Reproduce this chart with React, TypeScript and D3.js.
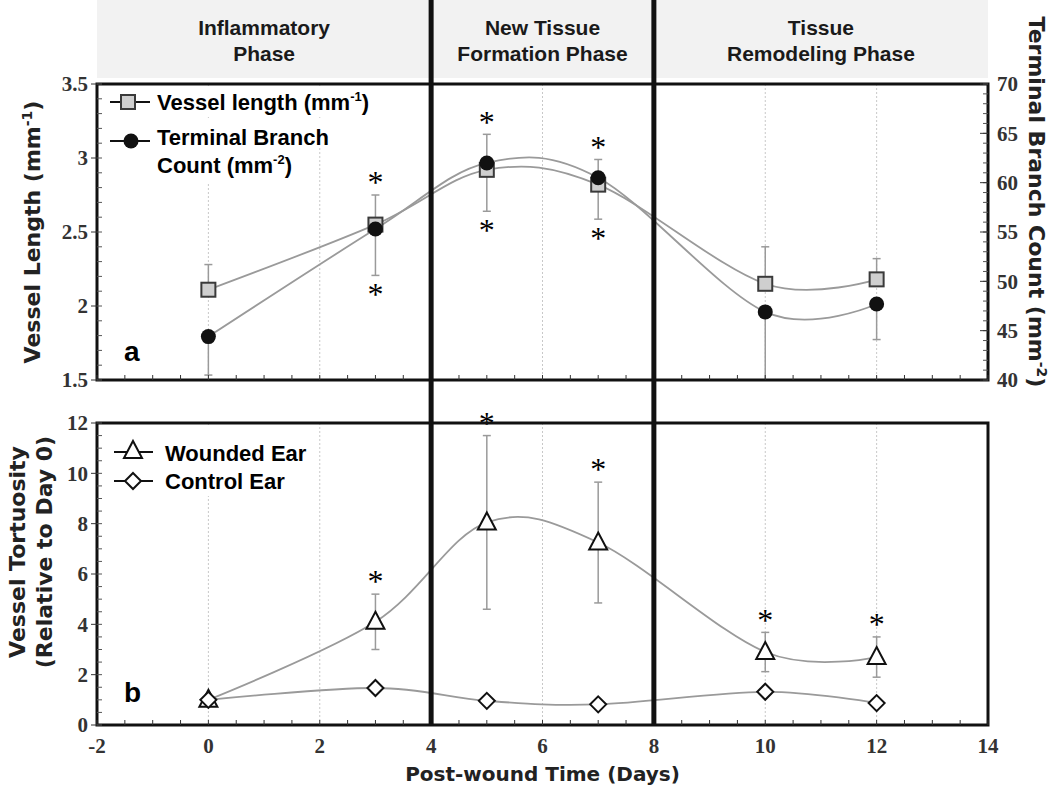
import React from "react";
import * as d3 from "d3";

// ---------- data ----------
const days = [0, 3, 5, 7, 10, 12];
const vesselLength = [2.11, 2.55, 2.92, 2.82, 2.15, 2.18];
const vesselLengthErr = [0.17, 0.2, 0.24, 0.17, 0.25, 0.14];
const branchCount = [44.4, 55.3, 62.0, 60.5, 46.9, 47.7];
const branchCountErr = [3.9, 4.7, 4.9, 4.2, 6.9, 3.6];
const starsAboveA = [3, 5, 7];
const starsBelowA = [3, 5, 7];
const wounded = [1.0, 4.1, 8.05, 7.25, 2.9, 2.7];
const woundedErr = [0, 1.1, 3.45, 2.4, 0.78, 0.8];
const control = [1.0, 1.47, 0.96, 0.82, 1.32, 0.87];
const starsB = [3, 5, 7, 10, 12];
const phaseBounds = [4, 8];
const phases = [
  { x: 1, lines: ["Inflammatory", "Phase"] },
  { x: 6, lines: ["New Tissue", "Formation Phase"] },
  { x: 11, lines: ["Tissue", "Remodeling Phase"] },
];
const xTicks = [-2, 0, 2, 4, 6, 8, 10, 12, 14];
const gridDays = [0, 2, 6, 10, 12];
const yTicksA = [1.5, 2, 2.5, 3, 3.5];
const yTicksAR = [40, 45, 50, 55, 60, 65, 70];
const yTicksB = [0, 2, 4, 6, 8, 10, 12];

// ---------- layout ----------
const L = 97, R = 988;
const aTop = 84, aBot = 380, bTop = 423, bBot = 725;
const x = d3.scaleLinear([-2, 14], [L, R]);
const ya = d3.scaleLinear([1.5, 3.5], [aBot, aTop]);
const yaR = d3.scaleLinear([40, 70], [aBot, aTop]);
const yb = d3.scaleLinear([0, 12], [bBot, bTop]);

const curve = d3.curveCardinal.tension(0);
const tickFont = "'Liberation Serif', 'DejaVu Serif', serif";
const sansBold = "'DejaVu Sans', Verdana, sans-serif";
const legFont = "'Liberation Sans', Arial, sans-serif";
const LINE = "#9a9a9a";

function lineGen(ys: number[], yScale: (v: number) => number) {
  return d3
    .line<number>()
    .x((_, i) => x(days[i]))
    .y((v) => yScale(v))
    .curve(curve)(ys) as string;
}

const Star = ({ cx, cy }: { cx: number; cy: number }) => (
  <text x={cx} y={cy} textAnchor="middle" dominantBaseline="middle" fontFamily={tickFont} fontSize={32}>
    *
  </text>
);

const Square = ({ cx, cy, s = 14 }: { cx: number; cy: number; s?: number }) => (
  <rect x={cx - s / 2} y={cy - s / 2} width={s} height={s} fill="#cfcfcf" stroke="#3a3a3a" strokeWidth={2} />
);
const Circle = ({ cx, cy }: { cx: number; cy: number }) => <circle cx={cx} cy={cy} r={7.5} fill="#111" />;
const Tri = ({ cx, cy }: { cx: number; cy: number }) => (
  <path d={`M${cx},${cy - 10}L${cx + 9},${cy + 7}L${cx - 9},${cy + 7}Z`} fill="#fff" stroke="#111" strokeWidth={2} />
);
const Diamond = ({ cx, cy }: { cx: number; cy: number }) => (
  <path d={`M${cx},${cy - 8}L${cx + 8},${cy}L${cx},${cy + 8}L${cx - 8},${cy}Z`} fill="#fff" stroke="#111" strokeWidth={2} />
);

export default function App() {
  const minorXs = d3.range(-2, 14.01, 0.5);
  const minorA = d3.range(1.5, 3.501, 0.1);
  const minorAR = d3.range(40, 70.01, 1);
  const minorB = d3.range(0, 12.01, 0.5);

  return (
    <svg width={1050} height={788} style={{ position: "absolute", left: 0, top: 0, background: "#fff" }}>
      <rect x={0} y={0} width={1050} height={788} fill="#fff" />
      {/* header */}
      <rect x={L} y={0} width={R - L} height={78} fill="#f2f2f2" />
      {phases.map((p, i) => (
        <text key={i} x={x(p.x)} textAnchor="middle" fontFamily="'Liberation Sans Narrow', 'Liberation Sans', Arial, sans-serif" fontWeight="bold" fontSize={21} fill="#1a1a1a">
          {p.lines.map((t, j) => (
            <tspan key={j} x={x(p.x)} y={35 + j * 26}>
              {t}
            </tspan>
          ))}
        </text>
      ))}

      {/* gridlines */}
      {gridDays.map((d) => (
        <g key={d}>
          <line x1={x(d)} x2={x(d)} y1={aTop} y2={aBot} stroke="#c8c8c8" strokeDasharray="2,2" />
          <line x1={x(d)} x2={x(d)} y1={bTop} y2={bBot} stroke="#c8c8c8" strokeDasharray="2,2" />
        </g>
      ))}

      {/* legend backgrounds */}
      <rect x={103} y={87} width={270} height={30} fill="#fff" />
      <rect x={103} y={120} width={228} height={28} fill="#fff" />
      <rect x={103} y={148} width={200} height={34} fill="#fff" />
      <rect x={103} y={426} width={205} height={70} fill="#fff" />

      {/* ---------- panel a ---------- */}
      {days.map((d, i) => (
        <g key={"ea" + i} stroke={LINE} strokeWidth={1.5}>
          <line x1={x(d)} x2={x(d)} y1={ya(vesselLength[i])} y2={ya(vesselLength[i] + vesselLengthErr[i])} />
          <line x1={x(d) - 4} x2={x(d) + 4} y1={ya(vesselLength[i] + vesselLengthErr[i])} y2={ya(vesselLength[i] + vesselLengthErr[i])} />
          <line x1={x(d)} x2={x(d)} y1={yaR(branchCount[i])} y2={yaR(Math.max(40, branchCount[i] - branchCountErr[i]))} />
          <line x1={x(d) - 4} x2={x(d) + 4} y1={yaR(Math.max(40, branchCount[i] - branchCountErr[i]))} y2={yaR(Math.max(40, branchCount[i] - branchCountErr[i]))} />
        </g>
      ))}
      <path d={lineGen(vesselLength, ya)} fill="none" stroke={LINE} strokeWidth={1.8} />
      <path d={lineGen(branchCount, yaR)} fill="none" stroke={LINE} strokeWidth={1.8} />
      {days.map((d, i) => (
        <g key={"ma" + i}>
          <Square cx={x(d)} cy={ya(vesselLength[i])} />
          <Circle cx={x(d)} cy={yaR(branchCount[i])} />
        </g>
      ))}
      {starsAboveA.map((d) => {
        const i = days.indexOf(d);
        return <Star key={"sa" + d} cx={x(d)} cy={ya(vesselLength[i] + vesselLengthErr[i]) - 9} />;
      })}
      {starsBelowA.map((d) => {
        const i = days.indexOf(d);
        return <Star key={"sb" + d} cx={x(d)} cy={yaR(branchCount[i] - branchCountErr[i]) + 22} />;
      })}
      <text x={124} y={361} fontFamily={legFont} fontWeight="bold" fontSize={28}>a</text>

      {/* legend a */}
      <line x1={110} x2={150} y1={102} y2={102} stroke="#111" strokeWidth={2} />
      <Square cx={128} cy={102} />
      <text x={157} y={110} fontFamily={legFont} fontWeight="bold" fontSize={22}>
        Vessel length (mm<tspan dy={-9} fontSize={13}>-1</tspan><tspan dy={9}>)</tspan>
      </text>
      <line x1={110} x2={150} y1={141} y2={141} stroke="#111" strokeWidth={2} />
      <Circle cx={131} cy={141} />
      <text x={157} y={145} fontFamily={legFont} fontWeight="bold" fontSize={22}>Terminal Branch</text>
      <text x={157} y={173} fontFamily={legFont} fontWeight="bold" fontSize={22}>
        Count (mm<tspan dy={-9} fontSize={13}>-2</tspan><tspan dy={9}>)</tspan>
      </text>

      {/* frame a */}
      <rect x={L} y={aTop} width={R - L} height={aBot - aTop} fill="none" stroke="#111" strokeWidth={3} />
      {minorXs.map((v) => (
        <line key={"xa" + v} x1={x(v)} x2={x(v)} y1={aBot} y2={aBot - 5} stroke="#333" strokeWidth={1} />
      ))}
      {minorA.map((v) => (
        <line key={"la" + v} x1={L} x2={L + 5} y1={ya(v)} y2={ya(v)} stroke="#555" strokeWidth={1} />
      ))}
      {yTicksA.map((v) => (
        <g key={"lt" + v}>
          <line x1={L - 6} x2={L} y1={ya(v)} y2={ya(v)} stroke="#333" strokeWidth={1} />
          <text x={L - 9} y={ya(v)} dy="0.35em" textAnchor="end" fontFamily={tickFont} fontWeight="bold" fontSize={21} fill="#333">
            {v}
          </text>
        </g>
      ))}
      {minorAR.map((v) => (
        <line key={"ra" + v} x1={R - 5} x2={R} y1={yaR(v)} y2={yaR(v)} stroke="#555" strokeWidth={1} />
      ))}
      {yTicksAR.map((v) => (
        <g key={"rt" + v}>
          <line x1={R - 8} x2={R} y1={yaR(v)} y2={yaR(v)} stroke="#333" strokeWidth={1} />
          <text x={R + 9} y={yaR(v)} dy="0.35em" textAnchor="start" fontFamily={tickFont} fontWeight="bold" fontSize={21} fill="#333">
            {v}
          </text>
        </g>
      ))}
      <text transform={`translate(40,232) rotate(-90)`} textAnchor="middle" fontFamily={sansBold} fontWeight="bold" fontSize={22} fill="#222">
        Vessel Length (mm<tspan dy={-8} fontSize={14}>-1</tspan><tspan dy={8}>)</tspan>
      </text>
      <text transform={`translate(1029,202) rotate(90)`} textAnchor="middle" fontFamily={sansBold} fontWeight="bold" fontSize={22} fill="#222">
        Terminal Branch Count (mm<tspan dy={-8} fontSize={14}>-2</tspan><tspan dy={8}>)</tspan>
      </text>

      {/* ---------- panel b ---------- */}
      {days.map((d, i) =>
        woundedErr[i] > 0 ? (
          <g key={"eb" + i} stroke={LINE} strokeWidth={1.5}>
            <line x1={x(d)} x2={x(d)} y1={yb(wounded[i] - woundedErr[i])} y2={yb(wounded[i] + woundedErr[i])} />
            <line x1={x(d) - 4} x2={x(d) + 4} y1={yb(wounded[i] + woundedErr[i])} y2={yb(wounded[i] + woundedErr[i])} />
            <line x1={x(d) - 4} x2={x(d) + 4} y1={yb(wounded[i] - woundedErr[i])} y2={yb(wounded[i] - woundedErr[i])} />
          </g>
        ) : null
      )}
      <path d={lineGen(wounded, yb)} fill="none" stroke={LINE} strokeWidth={1.8} />
      <path d={lineGen(control, yb)} fill="none" stroke={LINE} strokeWidth={1.8} />
      {days.map((d, i) => (
        <g key={"mb" + i}>
          <Tri cx={x(d)} cy={yb(wounded[i])} />
          <Diamond cx={x(d)} cy={yb(control[i])} />
        </g>
      ))}
      {starsB.map((d) => {
        const i = days.indexOf(d);
        return <Star key={"sbb" + d} cx={x(d)} cy={yb(wounded[i] + woundedErr[i]) - 9} />;
      })}
      <text x={124} y={702} fontFamily={legFont} fontWeight="bold" fontSize={28}>b</text>

      {/* legend b */}
      <line x1={114} x2={153} y1={452} y2={452} stroke="#111" strokeWidth={2} />
      <Tri cx={133} cy={451} />
      <text x={165} y={461} fontFamily={legFont} fontWeight="bold" fontSize={22}>Wounded Ear</text>
      <line x1={114} x2={153} y1={481} y2={481} stroke="#111" strokeWidth={2} />
      <Diamond cx={133} cy={481} />
      <text x={165} y={489} fontFamily={legFont} fontWeight="bold" fontSize={22}>Control Ear</text>

      <rect x={L} y={bTop} width={R - L} height={bBot - bTop} fill="none" stroke="#111" strokeWidth={3} />
      {minorXs.map((v) => (
        <line key={"xb" + v} x1={x(v)} x2={x(v)} y1={bBot} y2={bBot - 5} stroke="#333" strokeWidth={1} />
      ))}
      {minorB.map((v) => (
        <line key={"lb" + v} x1={L} x2={L + 5} y1={yb(v)} y2={yb(v)} stroke="#555" strokeWidth={1} />
      ))}
      {yTicksB.map((v) => (
        <g key={"bt" + v}>
          <line x1={L - 6} x2={L} y1={yb(v)} y2={yb(v)} stroke="#333" strokeWidth={1} />
          <text x={L - 9} y={yb(v)} dy="0.35em" textAnchor="end" fontFamily={tickFont} fontWeight="bold" fontSize={21} fill="#333">
            {v}
          </text>
        </g>
      ))}
      {xTicks.map((v) => (
        <text key={"xt" + v} x={x(v)} y={746} dy="0.35em" textAnchor="middle" fontFamily={tickFont} fontWeight="bold" fontSize={21} fill="#333">
          {v}
        </text>
      ))}
      <text transform={`translate(25,552) rotate(-90)`} textAnchor="middle" fontFamily={sansBold} fontWeight="bold" fontSize={22} fill="#222">
        Vessel Tortuosity
      </text>
      <text transform={`translate(52,552) rotate(-90)`} textAnchor="middle" fontFamily={sansBold} fontWeight="bold" fontSize={22} fill="#222">
        (Relative to Day 0)
      </text>
      <text x={x(6)} y={781} textAnchor="middle" fontFamily={sansBold} fontWeight="bold" fontSize={20} fill="#222">
        Post-wound Time (Days)
      </text>

      {/* phase boundaries */}
      {phaseBounds.map((d) => (
        <line key={"pb" + d} x1={x(d)} x2={x(d)} y1={0} y2={bBot + 1} stroke="#111" strokeWidth={5} />
      ))}
    </svg>
  );
}
